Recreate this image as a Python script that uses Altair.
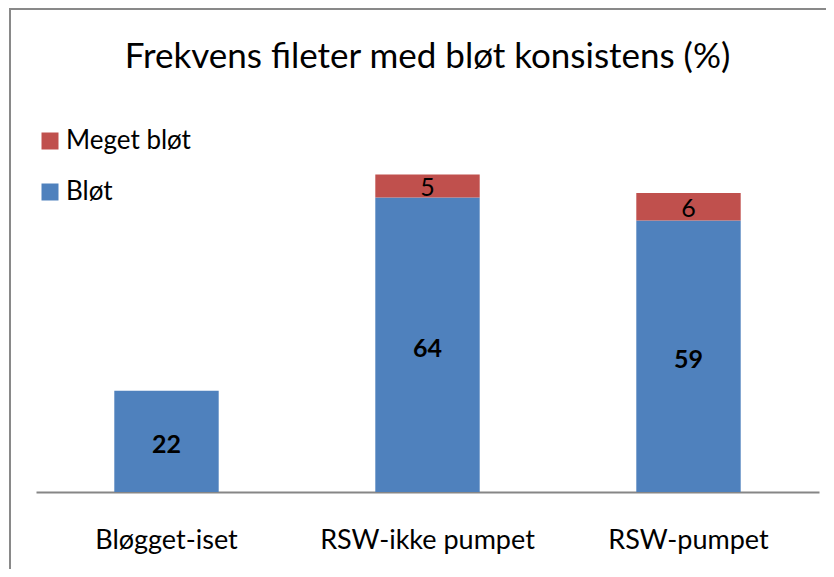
import altair as alt
import pandas as pd

categories = ["Bløgget-iset", "RSW-ikke pumpet", "RSW-pumpet"]
series = ["Bløt", "Meget bløt"]
blot_values = [22, 64, 59]
meget_blot_values = [None, 5, 6]

rows = []
for cat, b, m in zip(categories, blot_values, meget_blot_values):
    rows.append({"kategori": cat, "serie": series[0], "verdi": b, "rekke": 0})
    if m is not None:
        rows.append({"kategori": cat, "serie": series[1], "verdi": m, "rekke": 1})
df = pd.DataFrame(rows)

FONT = "Lato"
BLUE = "#4F81BD"
RED = "#C0504D"

x_enc = alt.X(
    "kategori:N",
    sort=categories,
    scale=alt.Scale(paddingInner=0.6, paddingOuter=0.3),
    axis=alt.Axis(
        title=None, labelAngle=0, labelFontSize=27, labelFont=FONT,
        labelColor="black", ticks=False, domainColor="#868686",
        domainWidth=2, labelPadding=35, labelLimit=0,
    ),
)
y_scale = alt.Scale(domain=[0, 80], nice=False, zero=True)

base = alt.Chart(df)

bars = base.mark_bar().encode(
    x=x_enc,
    y=alt.Y("verdi:Q", stack="zero", scale=y_scale, axis=None),
    color=alt.Color(
        "serie:N",
        scale=alt.Scale(domain=["Meget bløt", "Bløt"], range=[RED, BLUE]),
        legend=alt.Legend(
            title=None, orient="none", legendX=1, legendY=4,
            symbolType="square", symbolSize=289, symbolStrokeWidth=0,
            labelFont=FONT, labelFontSize=26, labelColor="black",
            labelOffset=3, rowPadding=25, padding=0,
        ),
    ),
    order=alt.Order("rekke:Q"),
)

stacked = base.transform_stack(
    stack="verdi", groupby=["kategori"], as_=["y0", "y1"],
    sort=[alt.SortField("rekke", order="ascending")],
).transform_calculate(mid="(datum.y0 + datum.y1) / 2")

x_plain = alt.X("kategori:N", sort=categories)

bold_labels = stacked.transform_filter("datum.rekke == 0").mark_text(
    font=FONT, fontSize=25, fontWeight="bold", color="black", baseline="middle", dy=4
).encode(x=x_plain, y=alt.Y("mid:Q", scale=y_scale), text="verdi:Q")

normal_labels = stacked.transform_filter("datum.rekke == 1").mark_text(
    font=FONT, fontSize=25, color="black", baseline="middle", dy=2
).encode(x=x_plain, y=alt.Y("mid:Q", scale=y_scale), text="verdi:Q")

border = alt.Chart(pd.DataFrame({"a": [0]})).mark_rect(
    fill=None, stroke="#898989", strokeWidth=2
).encode(
    x=alt.value(-26), x2=alt.value(900), y=alt.value(-115), y2=alt.value(700)
)

chart = alt.layer(border, bars, bold_labels, normal_labels).properties(
    width=783,
    height=368,
    title=alt.TitleParams(
        "Frekvens fileter med bløt konsistens (%)",
        font=FONT, fontSize=35, fontWeight="normal", color="black",
        anchor="middle", offset=-67,
    ),
    autosize=alt.AutoSizeParams(type="none"),
    padding={"left": 28, "top": 116, "right": 7, "bottom": 77},
    background="white",
).configure_view(stroke=None)

chart.save("out.html", embed_options={"renderer": "svg", "actions": False})
